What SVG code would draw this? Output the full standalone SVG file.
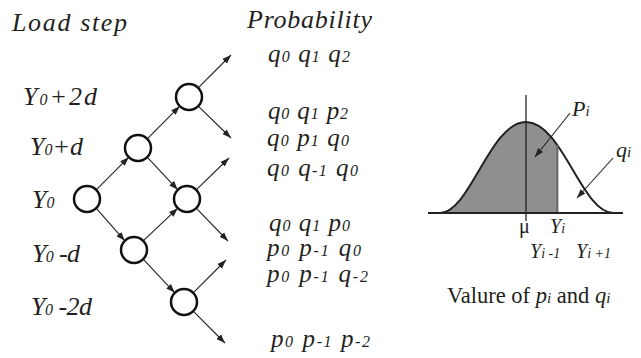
<svg xmlns="http://www.w3.org/2000/svg" width="641" height="358" viewBox="0 0 641 358">
<style>
text{font-family:"Liberation Serif","Times New Roman",serif;fill:#231f20}
.it{font-style:italic}
.lbl{font-size:26px;font-style:italic}
.pr{font-size:25px;font-style:italic}
.s{font-size:16px}
.node{fill:#fff;stroke:#111;stroke-width:2.5}
.edge{stroke:#222;stroke-width:1.1;fill:none;marker-end:url(#ah)}
.ax{stroke:#222;stroke-width:2;fill:none}
</style>
<defs>
<marker id="ah" markerUnits="userSpaceOnUse" markerWidth="10" markerHeight="8" refX="9" refY="4" orient="auto">
<path d="M0,0.8 L9,4 L0,7.2 Z" fill="#222"/>
</marker>
</defs>

<text class="lbl" x="12" y="31" textLength="115">Load  step</text>
<text class="lbl" x="23" y="105" textLength="74">Y<tspan class="s">0</tspan>+2d</text>
<text class="lbl" x="30" y="155" textLength="53">Y<tspan class="s">0</tspan>+d</text>
<text class="lbl" x="32" y="208">Y<tspan class="s">0</tspan></text>
<text class="lbl" x="32" y="262" textLength="48">Y<tspan class="s">0</tspan> -d</text>
<text class="lbl" x="31" y="315" textLength="61">Y<tspan class="s">0</tspan> -2d</text>

<text class="lbl" x="247" y="28" textLength="125">Probability</text>
<text class="pr" x="268" y="62" textLength="82">q<tspan class="s">0</tspan> q<tspan class="s">1</tspan> q<tspan class="s">2</tspan></text>
<text class="pr" x="268" y="119" textLength="80">q<tspan class="s">0</tspan> q<tspan class="s">1</tspan> p<tspan class="s">2</tspan></text>
<text class="pr" x="267" y="146" textLength="82">q<tspan class="s">0</tspan> p<tspan class="s">1</tspan> q<tspan class="s">0</tspan></text>
<text class="pr" x="267" y="176" textLength="91">q<tspan class="s">0</tspan> q<tspan class="s">-1</tspan> q<tspan class="s">0</tspan></text>
<text class="pr" x="269" y="231" textLength="81">q<tspan class="s">0</tspan> q<tspan class="s">1</tspan> p<tspan class="s">0</tspan></text>
<text class="pr" x="267" y="256" textLength="94">p<tspan class="s">0</tspan> p<tspan class="s">-1</tspan> q<tspan class="s">0</tspan></text>
<text class="pr" x="267" y="282" textLength="101">p<tspan class="s">0</tspan> p<tspan class="s">-1</tspan> q<tspan class="s">-2</tspan></text>
<text class="pr" x="271" y="347" textLength="99">p<tspan class="s">0</tspan> p<tspan class="s">-1</tspan> p<tspan class="s">-2</tspan></text>

<g id="connectors">
<line class="edge" x1="96.2" y1="189.8" x2="128.8" y2="157.2"/>
<line class="edge" x1="96.2" y1="208.2" x2="124.8" y2="240.8"/>
<line class="edge" x1="147.2" y1="138.8" x2="179.8" y2="106.2"/>
<line class="edge" x1="147.2" y1="157.2" x2="177.8" y2="189.8"/>
<line class="edge" x1="143.2" y1="240.8" x2="177.8" y2="208.2"/>
<line class="edge" x1="143.2" y1="259.2" x2="174.8" y2="292.8"/>
<line class="edge" x1="198.2" y1="87.8" x2="231" y2="55"/>
<line class="edge" x1="198.2" y1="106.2" x2="231" y2="138"/>
<line class="edge" x1="196.2" y1="189.8" x2="229" y2="158"/>
<line class="edge" x1="196.2" y1="208.2" x2="228" y2="241"/>
<line class="edge" x1="193.2" y1="292.8" x2="226" y2="260"/>
<line class="edge" x1="193.2" y1="311.2" x2="225" y2="343"/>
</g>

<g id="n-y0"><circle class="node" cx="87" cy="199" r="13"/></g>
<g id="n-y0pd"><circle class="node" cx="138" cy="148" r="13"/></g>
<g id="n-y0md"><circle class="node" cx="134" cy="250" r="13"/></g>
<g id="n-y0p2d"><circle class="node" cx="189" cy="97" r="13"/></g>
<g id="n-y0b"><circle class="node" cx="187" cy="199" r="13"/></g>
<g id="n-y0m2d"><circle class="node" cx="184" cy="302" r="13"/></g>

<g id="distribution">
<path d="M440,213 C470,213 490,122 526,122 C537.88,122 547.98,131.91 557.35,145.09 L557.35,213 Z" fill="#8f8f8f"/>
<path d="M440,213 C470,213 490,122 526,122 C562,122 582,213 613,213" class="ax" stroke-width="1.5"/>
<line x1="557.35" y1="145" x2="557.35" y2="213" stroke="#666" stroke-width="2"/>
<line x1="428" y1="213" x2="623" y2="213" class="ax"/>
<line x1="526" y1="95" x2="526" y2="221" stroke="#222" stroke-width="1.3"/>
<line class="edge" x1="570" y1="113" x2="535" y2="157"/>
<line class="edge" x1="613" y1="158" x2="577" y2="198"/>
<text class="it" x="572" y="116" font-size="22">P<tspan font-size="15">i</tspan></text>
<text class="it" x="616" y="157" font-size="22">q<tspan font-size="15">i</tspan></text>
<text x="519" y="233" font-size="20">μ</text>
<text class="it" x="550" y="233" font-size="20">Y<tspan font-size="14">i</tspan></text>
<text class="it" x="530" y="258" font-size="20">Y<tspan font-size="14">i -1</tspan></text>
<text class="it" x="576" y="258" font-size="20">Y<tspan font-size="14">i +1</tspan></text>
<text x="447" y="303" font-size="22.5">Valure of <tspan class="it">p</tspan><tspan class="it" font-size="15">i</tspan> and <tspan class="it">q</tspan><tspan class="it" font-size="15">i</tspan></text>
</g>
</svg>
